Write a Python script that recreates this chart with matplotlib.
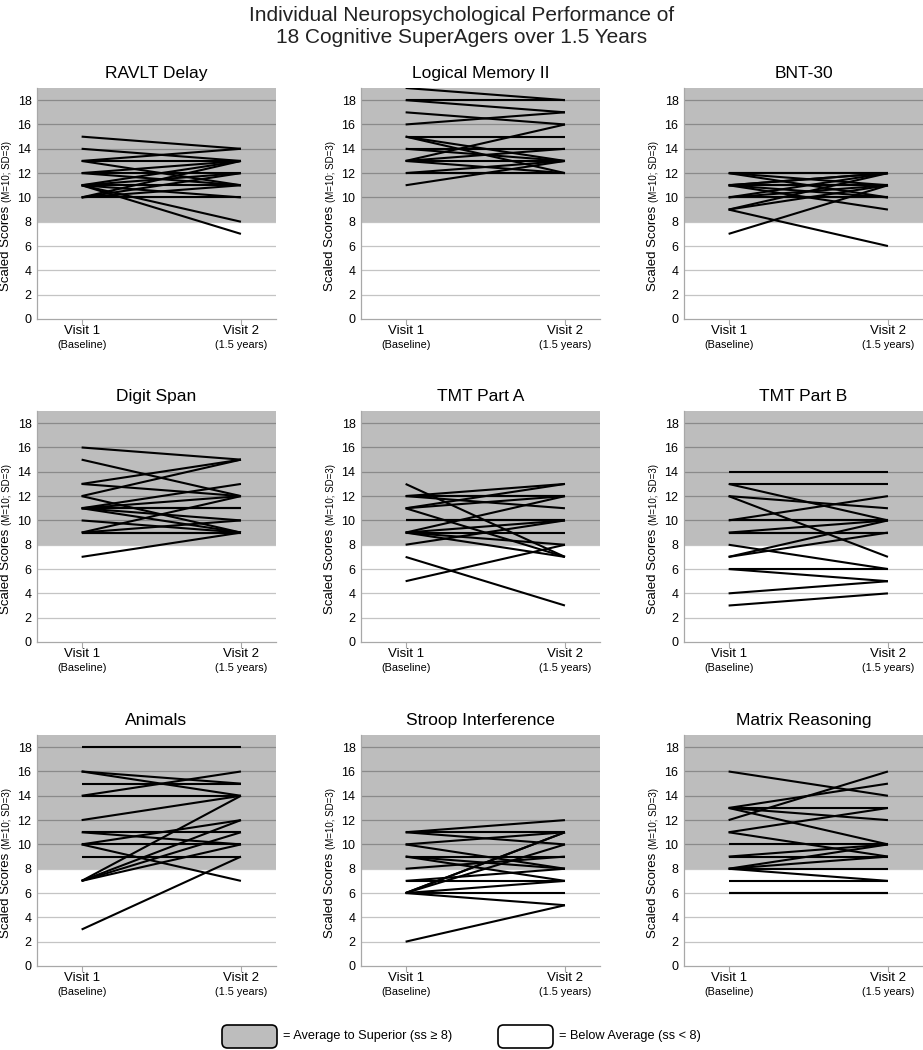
import matplotlib
matplotlib.use("Agg")
import matplotlib.pyplot as plt
from matplotlib.patches import FancyBboxPatch

plt.rcParams["font.family"] = ["Liberation Sans", "DejaVu Sans"]

# scaled scores per SuperAger: (visit 1, visit 2)
ravlt_v1 = [15, 14, 13, 13, 12, 12, 11, 11, 11, 11, 11, 11, 10, 10, 10, 10, 13, 12]
ravlt_v2 = [14, 13, 13, 14, 13, 12, 13, 12, 11, 10, 8, 7, 10, 11, 13, 12, 11, 11]

lm_v1 = [19, 18, 18, 17, 16, 15, 15, 14, 14, 13, 13, 13, 13, 12, 12, 11, 15, 12]
lm_v2 = [18, 18, 17, 16, 17, 15, 13, 13, 14, 16, 14, 13, 12, 13, 12, 13, 12, 12]

bnt_v1 = [12, 12, 12, 11, 11, 11, 11, 10, 10, 10, 9, 9, 9, 7, 11, 12, 10, 11]
bnt_v2 = [12, 10, 11, 12, 11, 10, 9, 12, 10, 11, 11, 6, 12, 11, 11, 12, 10, 12]

ds_v1 = [16, 15, 13, 13, 12, 12, 11, 11, 11, 11, 11, 10, 9, 9, 9, 7, 11, 9]
ds_v2 = [15, 12, 15, 12, 15, 9, 13, 12, 11, 10, 9, 9, 10, 9, 9, 9, 11, 12]

tmta_v1 = [13, 12, 12, 12, 11, 11, 11, 10, 9, 9, 9, 9, 9, 8, 7, 5, 12, 10]
tmta_v2 = [7, 13, 12, 11, 12, 7, 13, 10, 12, 10, 9, 8, 7, 10, 3, 8, 12, 10]

tmtb_v1 = [14, 13, 13, 12, 12, 10, 10, 9, 9, 8, 7, 7, 6, 6, 4, 3, 10, 9]
tmtb_v2 = [14, 13, 10, 11, 7, 12, 10, 10, 9, 6, 10, 9, 6, 5, 5, 4, 10, 9]

animals_v1 = [18, 16, 16, 15, 14, 14, 12, 11, 11, 10, 10, 10, 9, 7, 7, 7, 7, 3]
animals_v2 = [18, 15, 14, 15, 16, 14, 14, 11, 10, 12, 10, 7, 9, 14, 12, 11, 10, 9]

stroop_v1 = [11, 11, 11, 10, 10, 9, 9, 9, 8, 7, 7, 6, 6, 6, 6, 6, 6, 2]
stroop_v2 = [12, 11, 10, 11, 8, 9, 8, 7, 9, 8, 7, 11, 11, 10, 7, 6, 5, 5]

matrix_v1 = [16, 13, 13, 13, 13, 12, 11, 11, 10, 9, 9, 8, 8, 8, 8, 7, 6, 6]
matrix_v2 = [14, 13, 12, 10, 15, 16, 13, 9, 10, 10, 9, 10, 9, 8, 7, 7, 6, 6]

titles = ["RAVLT Delay", "Logical Memory II", "BNT-30",
          "Digit Span", "TMT Part A", "TMT Part B",
          "Animals", "Stroop Interference", "Matrix Reasoning"]
panels = [(ravlt_v1, ravlt_v2), (lm_v1, lm_v2), (bnt_v1, bnt_v2),
          (ds_v1, ds_v2), (tmta_v1, tmta_v2), (tmtb_v1, tmtb_v2),
          (animals_v1, animals_v2), (stroop_v1, stroop_v2), (matrix_v1, matrix_v2)]
visit_names = ["Visit 1", "Visit 2"]
visit_notes = ["(Baseline)", "(1.5 years)"]
y_ticks = [0, 2, 4, 6, 8, 10, 12, 14, 16, 18]
cutoff = 8

W, H = 923, 1050
fig = plt.figure(figsize=(W / 100, H / 100), dpi=100)

col_left = [37, 361, 684]
row_top = [88, 411, 735]
ax_w, ax_h = 239, 231

BAND = "#bdbdbd"
for i, (title, (v1, v2)) in enumerate(zip(titles, panels)):
    r, c = divmod(i, 3)
    ax = fig.add_axes([col_left[c] / W, 1 - (row_top[r] + ax_h) / H, ax_w / W, ax_h / H])
    ax.set_xlim(-0.28, 1.22)
    ax.set_ylim(0, 19)
    ax.axhspan(cutoff, 19, color=BAND, zorder=0, lw=0)
    for y in y_ticks[1:]:
        ax.axhline(y, color="#8a8a8a" if y > cutoff else "#c4c4c4", lw=0.9, zorder=1)
    for a, b in zip(v1, v2):
        ax.plot([0, 1], [a, b], color="black", lw=1.5, zorder=3, solid_capstyle="butt")
    for s in ["top", "right"]:
        ax.spines[s].set_visible(False)
    for s in ["left", "bottom"]:
        ax.spines[s].set_color("#a8a8a8")
        ax.spines[s].set_linewidth(0.9)
    ax.set_yticks(y_ticks)
    ax.tick_params(axis="y", length=0, labelsize=9, pad=4)
    ax.set_xticks([0, 1])
    ax.set_xticklabels(["", ""])
    ax.tick_params(axis="x", length=4, color="#a8a8a8", direction="out")
    tr = ax.get_xaxis_transform()
    for x, name, note in zip([0, 1], visit_names, visit_notes):
        ax.text(x, -0.052, name, transform=tr, ha="center", va="center", fontsize=9.5)
        ax.text(x, -0.113, note, transform=tr, ha="center", va="center", fontsize=7.8)
    ax.set_title(title, fontsize=12.5, pad=7)
    ax.text(-0.128, 0.49, "Scaled Scores", transform=ax.transAxes, rotation=90,
            ha="center", va="top", fontsize=9.5)
    ax.text(-0.124, 0.505, "(M=10; SD=3)", transform=ax.transAxes, rotation=90,
            ha="center", va="bottom", fontsize=7)

fig.text(0.5, 1 - 6 / H, "Individual Neuropsychological Performance of\n18 Cognitive SuperAgers over 1.5 Years",
         ha="center", va="top", fontsize=15, color="#222222", linespacing=1.2)

# legend boxes
for x0, face, label in [(222, BAND, "= Average to Superior (ss \u2265 8)"),
                        (498, "white", "= Below Average (ss < 8)")]:
    box = FancyBboxPatch((x0 / W, 1 - 1048 / H), 55 / W, 23 / H,
                         boxstyle="round,pad=0,rounding_size=0.006",
                         mutation_aspect=W / H,
                         transform=fig.transFigure, facecolor=face,
                         edgecolor="black", lw=1.2)
    fig.add_artist(box)
    fig.text((x0 + 61) / W, 1 - 1036 / H, label, ha="left", va="center", fontsize=9.2)

fig.savefig("out.png", dpi=100)
